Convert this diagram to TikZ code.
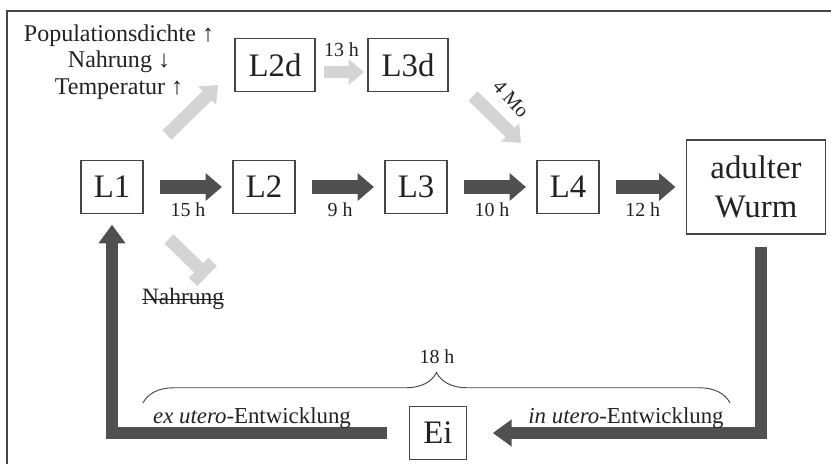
\documentclass[tikz,border=0pt]{standalone}
\usepackage{fontspec}
\setmainfont{Liberation Serif}
\usepackage{tikz}
\usetikzlibrary{arrows.meta,decorations.pathreplacing}

\definecolor{darkarrow}{HTML}{505050}
\definecolor{lightarrow}{HTML}{D4D4D4}
\definecolor{boxline}{HTML}{444444}
\definecolor{textgray}{HTML}{222222}

\begin{document}
\begin{tikzpicture}[x=0.03cm,y=-0.03cm,node distance=4.56cm,text=textgray,
  stage node/.style={draw=boxline,line width=0.9pt,minimum width=1.86cm,minimum height=1.59cm,inner sep=0pt,font=\fontsize{28}{33}\selectfont},
  time label/.style={font=\fontsize{17}{20}\selectfont},
  note label/.style={font=\fontsize{19.5}{22.5}\selectfont},
  dark arrow/.style={draw=darkarrow,line width=12.5pt,-{Triangle[length=14pt,width=23pt]},shorten <=14pt,shorten >=9pt},
  light arrow/.style={draw=lightarrow,line width=11pt,-{Triangle[length=13pt,width=21pt]}},
  loop arrow/.style={draw=darkarrow,line width=10pt,line join=miter,-{Triangle[length=16pt,width=22pt]}}]
  \useasboundingbox (0,0) rectangle (831,464);

  % frame
  \draw[boxline,line width=1.5pt] (831,11) -- (7,11) -- (7,464);

  % stages
  \node[stage node] (l1) at (112,187) {L1};
  \node[stage node] (l2) [right of=l1] {L2};
  \node[stage node] (l3) [right of=l2] {L3};
  \node[stage node] (l4) [right of=l3] {L4};
  \node[stage node,minimum width=4.17cm,minimum height=2.82cm,align=center] (wurm) [right of=l4,node distance=5.64cm] {adulter\\Wurm};
  \node[stage node,minimum width=2.4cm] (l2d) at (275,65) {L2d};
  \node[stage node,minimum width=2.4cm] (l3d) [right of=l2d,node distance=3.99cm] {L3d};
  \node[stage node,minimum width=1.71cm] (ei) at (438,433) {Ei};

  % conditions
  \node[note label,font=\fontsize{20.5}{22.5}\selectfont,align=center] (cond) at (119,62) {Populationsdichte ↑\\Nahrung ↓\\Temperatur ↑};
  \node[note label,font=\fontsize{20}{22.5}\selectfont,inner sep=0pt] (food) at (183,299) {Nahrung};
  \draw[textgray,line width=0.8pt] (food.west) -- (food.east);

  \coordinate (up start) at (167,135);
  \coordinate (up end) at (218,85);
  \coordinate (mo start) at (473,96);
  \coordinate (mo end) at (521,143);
  \coordinate (stop start) at (169,239);
  \coordinate (stop end) at (207,276);

  % main row
  \draw[dark arrow] (l1) -- (l2) node[time label,midway,yshift=-19pt] {15 h};
  \draw[dark arrow] (l2) -- (l3) node[time label,midway,yshift=-19pt] {9 h};
  \draw[dark arrow] (l3) -- (l4) node[time label,midway,yshift=-19pt] {10 h};
  \draw[dark arrow] (l4) -- (wurm) node[time label,midway,yshift=-19pt] {12 h};

  % dauer branch
  \draw[light arrow] (up start) -- (up end);
  \draw[light arrow,shorten <=7pt,shorten >=3pt] ([yshift=-6pt]l2d.east) -- ([yshift=-6pt]l3d.west)
    node[time label,midway,yshift=19pt] {13 h};
  \draw[light arrow] (mo start) -- (mo end);
  \node[time label,rotate=-48,inner sep=1pt] (mo) at (511,99) {4 Mo};
  \draw[draw=lightarrow,line width=11pt,-{Bar[width=24pt,line width=10pt]}] (stop start) -- (stop end);

  % egg loop
  \draw[loop arrow,shorten >=22pt] ([xshift=4pt,yshift=-11pt]wurm.south) |- (ei.east);
  \draw[loop arrow,shorten <=19pt,shorten >=9pt] (ei.west) -| (l1.south);
  \node[note label] (exu) at (252,418) {\textit{ex utero}-Entwicklung};
  \node[note label] (inu) at (626,418) {\textit{in utero}-Entwicklung};

  \draw[boxline,line width=0.8pt,decorate,decoration={brace,amplitude=26pt}] (143,403) -- (730,403);
  \node[time label] (total) at (437,357) {18 h};
\end{tikzpicture}
\end{document}
